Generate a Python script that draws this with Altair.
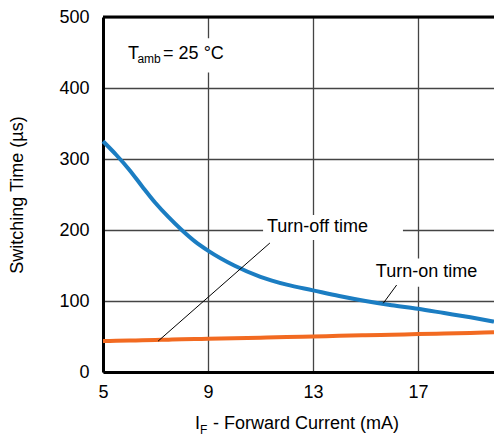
import altair as alt
import pandas as pd

currents = [5, 5.5, 6, 6.5, 7, 7.5, 8, 8.5, 9, 10, 11, 12, 13, 14, 15, 16, 17, 18, 19, 19.9]
turn_on = [325, 306, 285, 261, 238, 218, 200, 184, 171, 150, 134, 123, 115, 107, 100, 94, 89, 83, 77, 71]
turn_off = [43.5, 43.9, 44.3, 44.7, 45.1, 45.5, 46.0, 46.4, 46.8, 47.6, 48.4, 49.2, 50.0, 50.9, 51.7, 52.5, 53.4, 54.2, 55.1, 56.0]
x_ticks = [5, 9, 13, 17]
y_ticks = [0, 100, 200, 300, 400, 500]

FONT = "Liberation Sans"
FS = 18
BLUE = "#1B7DC2"
ORANGE = "#F26A21"

df = pd.DataFrame({"I": currents, "on": turn_on, "off": turn_off})

xs = alt.Scale(domain=[5, 19.9], nice=False, zero=False)
ys = alt.Scale(domain=[0, 500], nice=False)

xax = alt.Axis(values=x_ticks, title=None, grid=True, gridColor="#444", gridWidth=1.3,
               domainColor="black", domainWidth=3, ticks=False, labelPadding=11, labelFlush=False,
               labelFont=FONT, labelFontSize=FS, labelColor="black", format="d")
yax = alt.Axis(values=y_ticks, title="Switching Time (µs)", grid=True, gridColor="#444", gridWidth=1.3,
               domainColor="black", domainWidth=3, ticks=False, labelPadding=14, labelFlush=False,
               labelFont=FONT, labelFontSize=FS, labelColor="black", format="d",
               titleFont=FONT, titleFontSize=FS, titleFontWeight="normal", titleColor="black",
               titleAngle=-90, titleX=-86, titleY=177.5, titleAlign="center", titleBaseline="middle")

base = alt.Chart(df)

on_line = base.mark_line(color=BLUE, strokeWidth=4, interpolate="monotone").encode(
    x=alt.X("I:Q", scale=xs, axis=xax), y=alt.Y("on:Q", scale=ys, axis=yax))
off_line = base.mark_line(color=ORANGE, strokeWidth=4, interpolate="monotone").encode(
    x=alt.X("I:Q", scale=xs), y=alt.Y("off:Q", scale=ys))

def box(x1, x2, y1, y2):
    return alt.Chart().mark_rect(color="white").encode(
        x=alt.datum(x1, scale=xs), x2=alt.datum(x2), y=alt.datum(y1, scale=ys), y2=alt.datum(y2))

def seg(x1, y1, x2, y2, w=1, c="black"):
    return alt.Chart().mark_rule(color=c, strokeWidth=w).encode(
        x=alt.datum(x1, scale=xs), x2=alt.datum(x2), y=alt.datum(y1, scale=ys), y2=alt.datum(y2))

def txt(x, y, s, size=FS, align="left", baseline="alphabetic"):
    return alt.Chart().mark_text(font=FONT, fontSize=size, color="black", align=align,
                                 baseline=baseline).encode(
        x=alt.datum(x, scale=xs), y=alt.datum(y, scale=ys), text=alt.value(s))

top = seg(5, 500, 19.9, 500, w=3)

layers = [
    box(5.65, 9.84, 422, 470),
    box(11.10, 16.43, 186, 221),
    box(15.25, 19.44, 120, 160),
    off_line, on_line,
    seg(7.1, 43.5, 11.36, 181.7),
    seg(16.19, 122.5, 15.68, 96.8),
    txt(13.17, 197.6, "Turn-off time", align="center"),
    txt(17.33, 133.8, "Turn-on time", align="center"),
    txt(5.95, 441.5, "T"),
    txt(6.31, 435, "amb", size=12),
    txt(7.29, 441.5, "= 25 °C"),
    txt(8.506, -80.3, "I"),
    txt(8.697, -88.0, "F", size=12),
    txt(9.19, -80.3, "- Forward Current (mA)"),
    top,
]

chart = alt.layer(*layers).properties(
    width=391, height=355,
    autosize=alt.AutoSizeParams(type="none"),
    padding={"left": 103, "top": 17, "right": 0, "bottom": 65},
).configure_view(stroke=None).configure(background="white")

chart.save("out.html", embed_options={"renderer": "svg", "actions": False})
